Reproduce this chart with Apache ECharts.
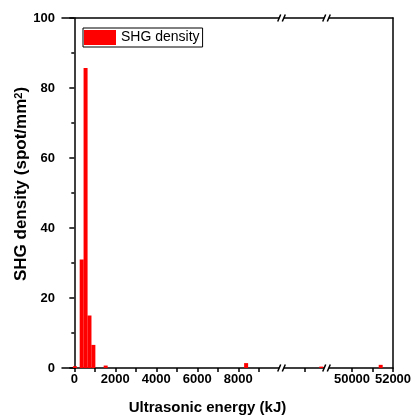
<!DOCTYPE html>
<html>
<head>
<meta charset="utf-8">
<script src="https://cdn.jsdelivr.net/npm/echarts@6/dist/echarts.min.js"></script>
<style>html,body{margin:0;padding:0;background:#fff}#c{width:415px;height:415px}</style>
</head>
<body>
<div id="c"></div>
<script>
// ---- data ----
const seriesName = 'SHG density';
const energy = [30, 360, 550, 740, 930, 1530, 8380, 30800, 51400];   // kJ
const density = [0.5, 31, 85.7, 15, 6.6, 0.7, 1.4, 0.4, 0.9];         // spot/mm^2
// axis segments (broken x axis)
const segMin = [-600, 28880, 48780];
const segMax = [10130, 31080, 52000];
const tickVals = [[0,1000,2000,3000,4000,5000,6000,7000,8000,9000],[30000],[50000,51000,52000]];
const labelVals = [[0,2000,4000,6000,8000],[],[50000,52000]];
const yTicks = [0, 20, 40, 60, 80, 100];
const xName = 'Ultrasonic energy (kJ)';

// ---- layout ----
const FONT = 'Liberation Sans, Arial, sans-serif';
const gridLeft = [62, 282, 327];
const gridW = [220, 45, 66];
const TOP = 18, H = 350;

const grids = gridLeft.map((l, i) => ({left: l, top: TOP, width: gridW[i], height: H, containLabel: false, outerBoundsMode: 'none'}));
const lineStyle = {color: '#000', width: 1.5};
const xAxes = [];
for (let i = 0; i < 3; i++) {
  xAxes.push({
    type: 'value', gridIndex: i, position: 'bottom', min: segMin[i], max: segMax[i],
    axisLine: {show: true, onZero: false, lineStyle},
    axisTick: {show: true, length: 4, lineStyle, customValues: tickVals[i]},
    axisLabel: {show: true, customValues: labelVals[i], margin: 5, color: '#000', fontFamily: FONT, fontWeight: 'bold', fontSize: 13,
      formatter: v => String(v)},
    splitLine: {show: false}
  });
}
for (let i = 0; i < 3; i++) {
  xAxes.push({
    type: 'value', gridIndex: i, position: 'top', min: segMin[i], max: segMax[i],
    axisLine: {show: true, onZero: false, lineStyle},
    axisTick: {show: false}, axisLabel: {show: false}, splitLine: {show: false}
  });
}
const yAxes = [
  {type: 'value', gridIndex: 0, min: yTicks[0], max: yTicks[yTicks.length-1], interval: 20,
   axisLine: {show: true, lineStyle}, axisTick: {show: true, length: 5, lineStyle},
   minorTick: {show: true, splitNumber: 2, length: 3, lineStyle},
   axisLabel: {margin: 7, color: '#000', fontFamily: FONT, fontWeight: 'bold', fontSize: 13},
   splitLine: {show: false},
   name: '{a|SHG density (spot/mm}{s|2}{a|)}', nameLocation: 'middle', nameGap: 32, nameRotate: 90,
   nameMoveOverlap: false,
   nameTextStyle: {padding: [0, 0, 0, 18], rich: {
     a: {fontFamily: FONT, fontWeight: 'bold', fontSize: 17, color: '#000'},
     s: {fontFamily: FONT, fontWeight: 'bold', fontSize: 11, color: '#000', verticalAlign: 'top', padding: [0,0,6,0]}
   }}},
  {type: 'value', gridIndex: 1, min: 0, max: 100, show: false},
  {type: 'value', gridIndex: 2, min: 0, max: 100, position: 'right',
   axisLine: {show: true, lineStyle}, axisTick: {show: false}, axisLabel: {show: false}, splitLine: {show: false}}
];

const series = [0, 1, 2].map(i => ({
  name: seriesName, type: 'bar', xAxisIndex: i, yAxisIndex: i, barWidth: 4,
  itemStyle: {color: '#ff0000'},
  data: energy.map((e, k) => [e, density[k]]).filter(p => p[0] >= segMin[i] && p[0] <= segMax[i])
}));

// break marks
const graphics = [];
[282, 327].forEach(x => {
  [TOP, TOP + H].forEach(y => {
    graphics.push({type: 'rect', z: 100, shape: {x: x - 2.8, y: y - 2, width: 4.6, height: 4}, style: {fill: '#fff'}});
    graphics.push({type: 'line', z: 101, shape: {x1: x - 4.3, y1: y + 3.5, x2: x - 1.3, y2: y - 3.5}, style: {stroke: '#000', lineWidth: 1.5}});
    graphics.push({type: 'line', z: 101, shape: {x1: x + 0.3, y1: y + 3.5, x2: x + 3.3, y2: y - 3.5}, style: {stroke: '#000', lineWidth: 1.5}});
  });
});
graphics.push({type: 'text', z: 100, left: 'center', top: 400, style: {text: xName, fill: '#000', font: 'bold 15px ' + FONT}});

const chart = echarts.init(document.getElementById('c'), null, {renderer: 'canvas'});
chart.setOption({
  animation: false,
  backgroundColor: '#fff',
  grid: grids,
  xAxis: xAxes,
  yAxis: yAxes,
  legend: {
    data: [seriesName], left: 83, top: 28, orient: 'vertical',
    itemWidth: 32, itemHeight: 15, itemGap: 4, icon: 'rect',
    borderColor: '#000', borderWidth: 1, padding: [2, 3, 2, 1],
    textStyle: {fontFamily: FONT, fontSize: 14, color: '#000'}
  },
  series,
  graphic: graphics
});
</script>
</body>
</html>
